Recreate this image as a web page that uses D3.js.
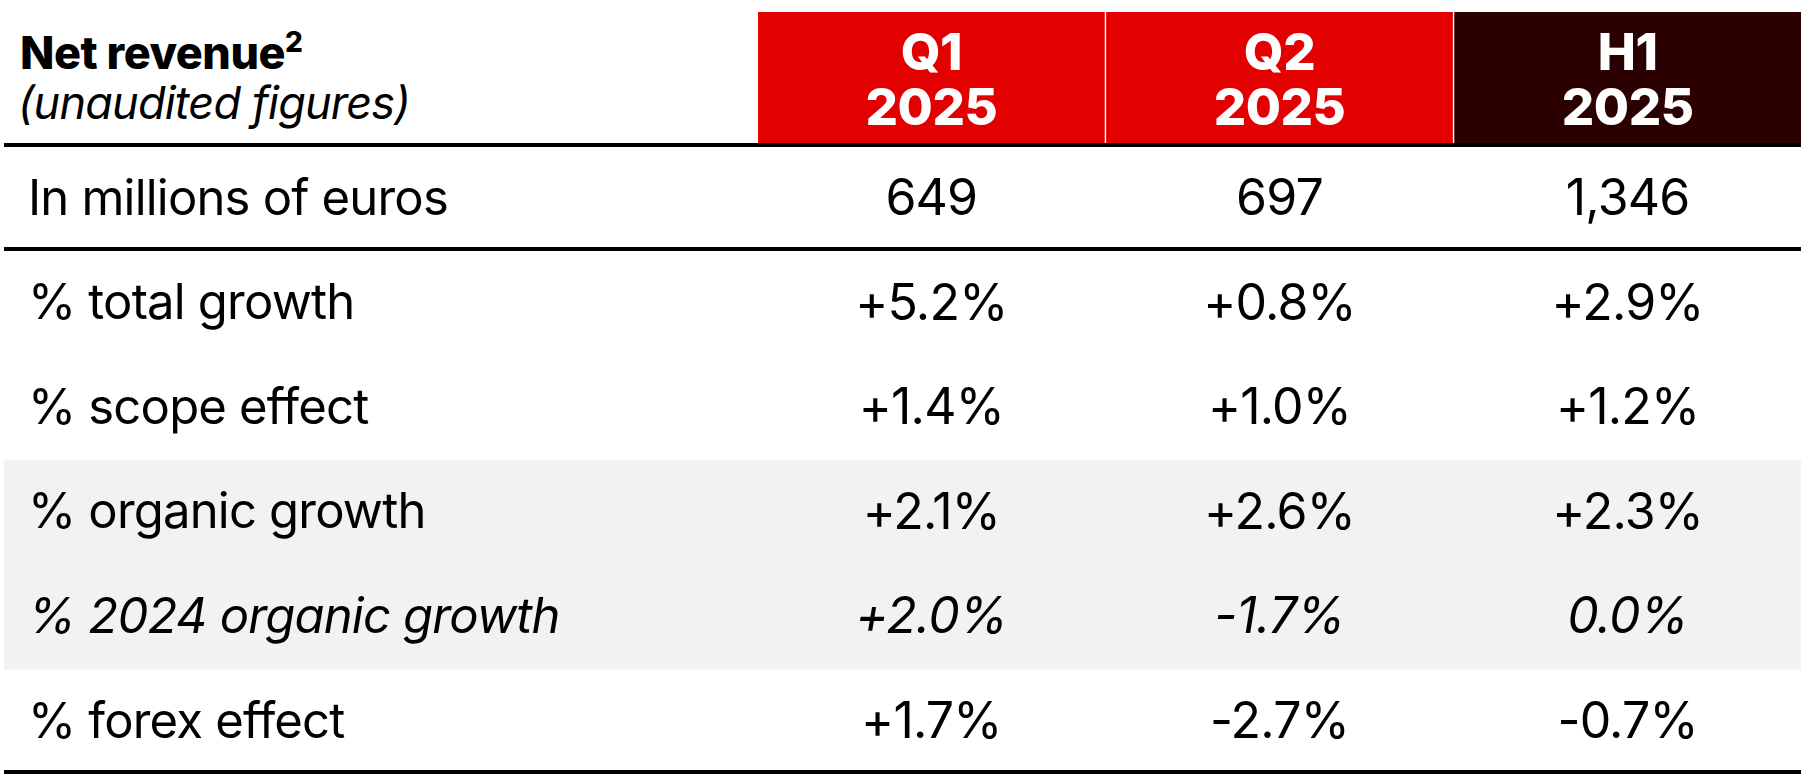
<!DOCTYPE html>
<html><head><meta charset="utf-8">
<script src="https://cdn.jsdelivr.net/npm/d3@7"></script>
<style>body{margin:0;background:#fff}</style>
</head><body>
<script>
const columns = [["Q1", "2025"], ["Q2", "2025"], ["H1", "2025"]]
const headerColors = ["#e30000", "#e30000", "#2b0000"]
const rowLabels = ["In millions of euros", "% total growth", "% scope effect", "% organic growth", "% 2024 organic growth", "% forex effect"]
const q1 = ["649", "+5.2%", "+1.4%", "+2.1%", "+2.0%", "+1.7%"]
const q2 = ["697", "+0.8%", "+1.0%", "+2.6%", "-1.7%", "-2.7%"]
const h1 = ["1,346", "+2.9%", "+1.2%", "+2.3%", "0.0%", "-0.7%"]
const italicRows = [4]

const m = {width: 1805, height: 783}
const font = "Inter, 'Noto Sans', sans-serif"

const svg = d3.select("body").append("svg")
    .attr("width", m.width).attr("height", m.height)

const x = d3.scaleBand().domain([0, 1, 2]).range([758, 1801]).paddingInner(0.004)
const rowY = d3.scaleLinear().domain([0, 5]).range([197, 720])

// shaded band
svg.append("rect").attr("x", 4).attr("width", 1797)
    .attr("y", (rowY(3) + rowY(2)) / 2 + 2).attr("height", rowY(4) - rowY(3) + (rowY(3) - rowY(2)))
    .attr("fill", "#f2f2f2")

// header cells
const vals = [q1, q2, h1]
columns.forEach((c, i) => {
    svg.append("rect").attr("x", x(i)).attr("y", 12).attr("width", x.bandwidth()).attr("height", 132)
        .attr("fill", headerColors[i])
    c.forEach((t, j) => {
        svg.append("text").attr("x", x(i) + x.bandwidth() / 2).attr("y", 70 + j * 55)
            .attr("text-anchor", "middle").attr("font-family", font).attr("font-weight", 800)
            .attr("font-size", 51).attr("letter-spacing", -0.5).attr("fill", "#fff").text(t)
    })
})

svg.append("text").attr("x", 20).attr("y", 69).attr("font-family", font).attr("font-weight", 800)
    .attr("font-size", 45).attr("letter-spacing", -0.5).text("Net revenue")
    .append("tspan").attr("font-size", 28).attr("dy", -17).text("2")
svg.append("text").attr("x", 18).attr("y", 119).attr("font-family", font).attr("font-style", "italic")
    .attr("font-size", 45).attr("letter-spacing", -0.8).text("(unaudited figures)")

// rules
;[145, 249, 772].forEach(y => {
    svg.append("line").attr("x1", 4).attr("x2", 1801).attr("y1", y).attr("y2", y)
        .attr("stroke", "#000").attr("stroke-width", 4)
})

rowLabels.forEach((lab, r) => {
    const it = italicRows.includes(r)
    svg.append("text").attr("x", 28).attr("y", rowY(r)).attr("dy", "0.36em")
        .attr("font-family", font).attr("font-size", 49).attr("letter-spacing", -0.8)
        .attr("font-style", it ? "italic" : "normal").text(lab)
    vals.forEach((v, i) => {
        svg.append("text").attr("x", x(i) + x.bandwidth() / 2).attr("y", rowY(r)).attr("dy", "0.36em")
            .attr("text-anchor", "middle").attr("font-family", font).attr("font-size", 50)
            .attr("letter-spacing", -0.8).attr("font-style", it ? "italic" : "normal").text(v[r])
    })
})
</script>
</body></html>
